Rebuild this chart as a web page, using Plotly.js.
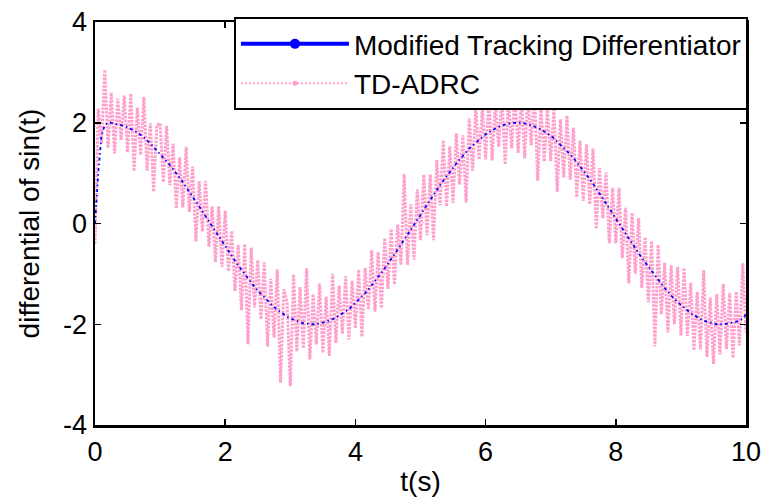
<!DOCTYPE html>
<html>
<head>
<meta charset="utf-8">
<script src="https://cdn.plot.ly/plotly-3.0.1.min.js"></script>
<style>html,body{margin:0;padding:0;background:#fff;}</style>
</head>
<body>
<div id="chart" style="width:767px;height:504px;"></div>
<script>
// time grid: start 0 s, step 0.05 s, up to 10 s
var tStart = 0;
var tStep = 0.05;

var seriesNames = ["Modified Tracking Differentiator", "TD-ADRC"];

// Modified Tracking Differentiator output
var mtdValues = [
  0.00, 1.00, 1.75, 1.95, 2.00, 2.00, 1.98, 1.97, 1.96, 1.94,
  1.91, 1.88, 1.84, 1.81, 1.76, 1.71, 1.65, 1.59, 1.52, 1.46,
  1.39, 1.30, 1.24, 1.16, 1.08, 1.00, 0.91, 0.82, 0.72, 0.63,
  0.53, 0.44, 0.34, 0.24, 0.14, 0.04, -0.06, -0.16, -0.26, -0.36,
  -0.45, -0.55, -0.65, -0.74, -0.83, -0.92, -1.01, -1.10, -1.18, -1.26,
  -1.33, -1.40, -1.47, -1.54, -1.60, -1.66, -1.71, -1.76, -1.81, -1.85,
  -1.88, -1.91, -1.94, -1.96, -1.98, -1.99, -2.00, -2.00, -2.00, -1.99,
  -1.97, -1.95, -1.93, -1.90, -1.87, -1.83, -1.79, -1.75, -1.70, -1.64,
  -1.58, -1.52, -1.45, -1.38, -1.31, -1.23, -1.15, -1.07, -0.98, -0.89,
  -0.80, -0.71, -0.61, -0.52, -0.42, -0.32, -0.22, -0.12, -0.02, 0.08,
  0.17, 0.27, 0.37, 0.47, 0.57, 0.66, 0.76, 0.85, 0.94, 1.03,
  1.11, 1.19, 1.27, 1.35, 1.42, 1.49, 1.55, 1.61, 1.67, 1.72,
  1.77, 1.81, 1.85, 1.89, 1.92, 1.95, 1.97, 1.98, 1.99, 2.00,
  2.00, 2.00, 1.99, 1.97, 1.95, 1.93, 1.90, 1.87, 1.83, 1.79,
  1.74, 1.69, 1.63, 1.57, 1.51, 1.44, 1.37, 1.30, 1.22, 1.14,
  1.05, 0.97, 0.88, 0.79, 0.69, 0.60, 0.50, 0.41, 0.31, 0.21,
  0.11, 0.01, -0.09, -0.19, -0.29, -0.39, -0.49, -0.59, -0.68, -0.77,
  -0.86, -0.95, -1.04, -1.12, -1.20, -1.28, -1.36, -1.43, -1.50, -1.56,
  -1.62, -1.68, -1.73, -1.78, -1.82, -1.86, -1.90, -1.93, -1.95, -1.97,
  -1.99, -2.00, -2.00, -2.00, -1.99, -1.98, -1.97, -1.95, -1.92, -1.89, -1.80
];

// TD-ADRC output (noisy)
var tdadrcValues = [
  -0.40, 2.28, 1.59, 3.05, 1.50, 2.60, 1.39, 2.48, 1.66, 2.54,
  1.41, 2.58, 1.04, 2.30, 1.36, 2.51, 1.05, 1.99, 0.63, 1.96,
  1.99, 0.82, 1.94, 0.76, 1.58, 0.30, 1.31, 0.32, 1.52, 0.23,
  1.13, -0.36, 0.84, -0.16, 0.84, -0.46, 0.34, -0.76, 0.34, -0.86,
  0.25, -0.95, -0.15, -1.34, -0.43, -1.72, -0.41, -2.40, -0.48, -1.66,
  -0.73, -1.90, -0.77, -2.44, -1.10, -2.26, -0.91, -3.16, -1.31, -1.55,
  -3.23, -1.01, -2.54, -1.26, -2.48, -0.89, -2.70, -1.40, -2.40, -1.19,
  -2.57, -1.45, -2.63, -1.00, -2.37, -1.23, -2.19, -1.05, -2.30, -1.14,
  -2.08, -0.92, -2.25, -0.88, -1.71, -0.53, -1.75, -0.57, -1.68, -0.29,
  -1.30, -0.11, -1.21, -0.02, -0.82, 0.98, -0.82, 0.38, -0.72, 0.68,
  -0.33, 0.97, -0.23, 0.97, -0.33, 1.26, 0.36, 1.65, 0.34, 1.53,
  0.41, 1.79, 0.77, 1.75, 0.42, 2.09, 1.05, 2.31, 1.27, 2.32,
  1.27, 2.51, 1.25, 2.39, 1.52, 2.55, 1.17, 2.48, 1.49, 2.60,
  1.40, 2.50, 1.29, 2.57, 1.55, 2.63, 0.85, 2.37, 1.23, 2.29,
  1.24, 2.29, 0.63, 2.07, 0.91, 2.14, 0.87, 1.90, 0.52, 1.64,
  0.45, 1.57, 0.38, 1.49, -0.11, 1.10, 0.10, 1.01, -0.39, 0.71,
  -0.39, 0.71, -0.69, 0.31, -1.19, 0.21, -0.99, 0.11, -1.28, -0.27,
  -1.56, -0.35, -2.44, -0.42, -1.80, -0.78, -2.16, -0.83, -2.00, -0.86,
  -2.22, -0.88, -2.23, -1.18, -2.52, -1.36, -2.50, -0.93, -2.65, -1.47,
  -2.79, -1.40, -2.60, -1.20, -2.49, -1.38, -2.67, -1.35, -2.42, -0.79, -2.16
];

var xTickVals = [0, 2, 4, 6, 8, 10];
var xTickText = ["0", "2", "4", "6", "8", "10"];
var yTickVals = [-4, -2, 0, 2, 4];
var yTickText = ["-4", "-2", "0", "2", "4"];

var blue = "#0000FF";
var pink = "#FF9FCC";
var fontFam = "Liberation Sans, Arial, Helvetica, sans-serif";

var data = [
  // legend entries
  {x: [null], y: [null], type: "scatter", mode: "lines+markers", name: seriesNames[0],
   line: {color: blue, width: 4}, marker: {color: blue, size: 10}, showlegend: true, hoverinfo: "skip"},
  {x: [null], y: [null], type: "scatter", mode: "lines+markers", name: seriesNames[1],
   line: {color: pink, width: 2, dash: "2px,2px"}, marker: {color: pink, size: 5}, showlegend: true, hoverinfo: "skip"},
  // data traces
  {y: tdadrcValues, x0: tStart, dx: tStep, type: "scatter", mode: "lines", name: seriesNames[1],
   line: {color: pink, width: 3, dash: "2.5px,1.2px"}, showlegend: false},
  {y: mtdValues, x0: tStart, dx: tStep, type: "scatter", mode: "lines", name: seriesNames[0],
   line: {color: blue, width: 1.8, dash: "3px,3px,1.5px,3px"}, showlegend: false}
];

var axisCommon = {
  showgrid: false, zeroline: false, showline: true, linecolor: "#000", linewidth: 2.5,
  mirror: "ticks", ticks: "inside", ticklen: 6, tickwidth: 1.5, tickcolor: "#000",
  tickfont: {family: fontFam, size: 27, color: "#000"}
};

var layout = {
  width: 767, height: 504,
  margin: {l: 95, r: 21, t: 22, b: 79},
  paper_bgcolor: "#fff", plot_bgcolor: "#fff",
  font: {family: fontFam, color: "#000"},
  xaxis: Object.assign({}, axisCommon, {
    range: [0, 10], tickvals: xTickVals, ticktext: xTickText, ticklabelstandoff: 1,
    title: {text: "t(s)", font: {family: fontFam, size: 28, color: "#000"}, standoff: 6}
  }),
  yaxis: Object.assign({}, axisCommon, {
    range: [-4, 4], tickvals: yTickVals, ticktext: yTickText,
    title: {text: "differential of sin(t)", font: {family: fontFam, size: 28, color: "#000"}, standoff: 16}
  }),
  legend: {
    x: 1.003, xanchor: "right", y: 1.012, yanchor: "top",
    bgcolor: "#fff", bordercolor: "#000", borderwidth: 2,
    font: {family: fontFam, size: 28, color: "#000"},
    itemwidth: 108, tracegroupgap: 0
  },
  showlegend: true
};

Plotly.newPlot("chart", data, layout, {staticPlot: true, displayModeBar: false});
</script>
</body>
</html>
